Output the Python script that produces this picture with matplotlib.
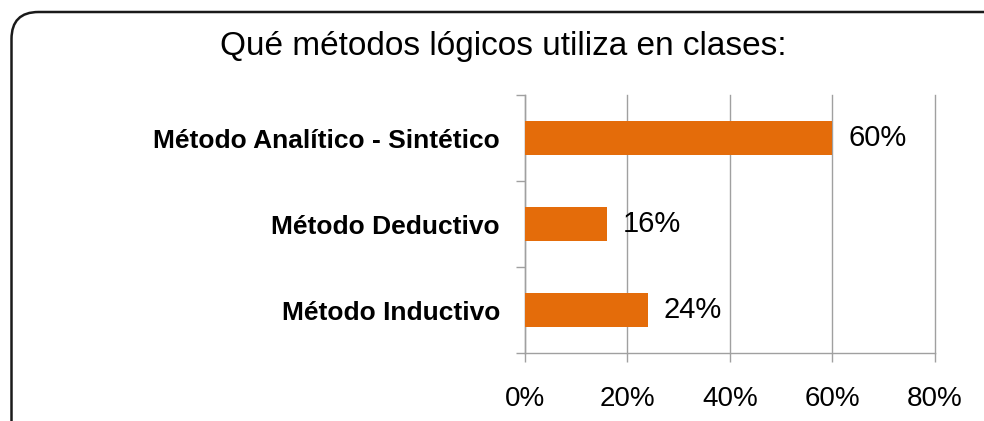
import matplotlib.pyplot as plt
from matplotlib.patches import FancyBboxPatch

# data
categories = ['Método Inductivo', 'Método Deductivo', 'Método Analítico - Sintético']
values = [24, 16, 60]
x_ticks = [0, 20, 40, 60, 80]
title = 'Qué métodos lógicos utiliza en clases:'

plt.rcParams['font.family'] = ['Liberation Sans', 'DejaVu Sans']

fig = plt.figure(figsize=(9.84, 4.21), dpi=100)
ax = fig.add_axes([0.5335, 0.1615, 0.9502 - 0.5335, 0.7743 - 0.1615])

ax.barh(range(len(categories)), values, height=0.4, color='#E46C0A', zorder=3)
for i, v in enumerate(values):
    ax.annotate(f'{v}%', (v, i), xytext=(11.5, 0), textcoords='offset points',
                va='center', ha='left', fontsize=21, color='black')

ax.set_xlim(0, 80)
ax.set_ylim(-0.5, len(categories) - 0.5)
ax.set_xticks(x_ticks)
ax.set_xticklabels([f'{t}%' for t in x_ticks], fontsize=20)
# separators between categories on the y axis, labels in the middle
ax.set_yticks([-0.5, 0.5, 1.5, 2.5])
ax.set_yticklabels([])
ax.set_yticks(range(len(categories)), minor=True)
ax.set_yticklabels(categories, minor=True, fontsize=19, fontweight='bold')
ax.tick_params(axis='y', which='minor', length=0, pad=18)
ax.tick_params(axis='y', which='major', length=6.5, color='#A0A0A0', width=1)
ax.tick_params(axis='x', length=6.5, color='#A0A0A0', width=1, pad=17)

ax.grid(axis='x', color='#A0A0A0', linewidth=1, zorder=0)
for line in ax.get_xgridlines():
    line.set_clip_on(False)  # keep the 80% line fully visible at the edge
for s in ['top', 'right']:
    ax.spines[s].set_visible(False)
for s in ['left', 'bottom']:
    ax.spines[s].set_color('#A0A0A0')
    ax.spines[s].set_linewidth(1)

fig.text(0.511, 1 - 46 / 421, title, ha='center', va='center', fontsize=24)

# rounded frame running off the right and bottom edges
box = FancyBboxPatch((0.115, -0.3), 10.2, 4.09 + 0.3, boxstyle='round,pad=0,rounding_size=0.27',
                     transform=fig.dpi_scale_trans, fill=False, edgecolor='#1a1a1a', linewidth=1.8)
fig.patches.append(box)

plt.savefig('out.png', dpi=100)
